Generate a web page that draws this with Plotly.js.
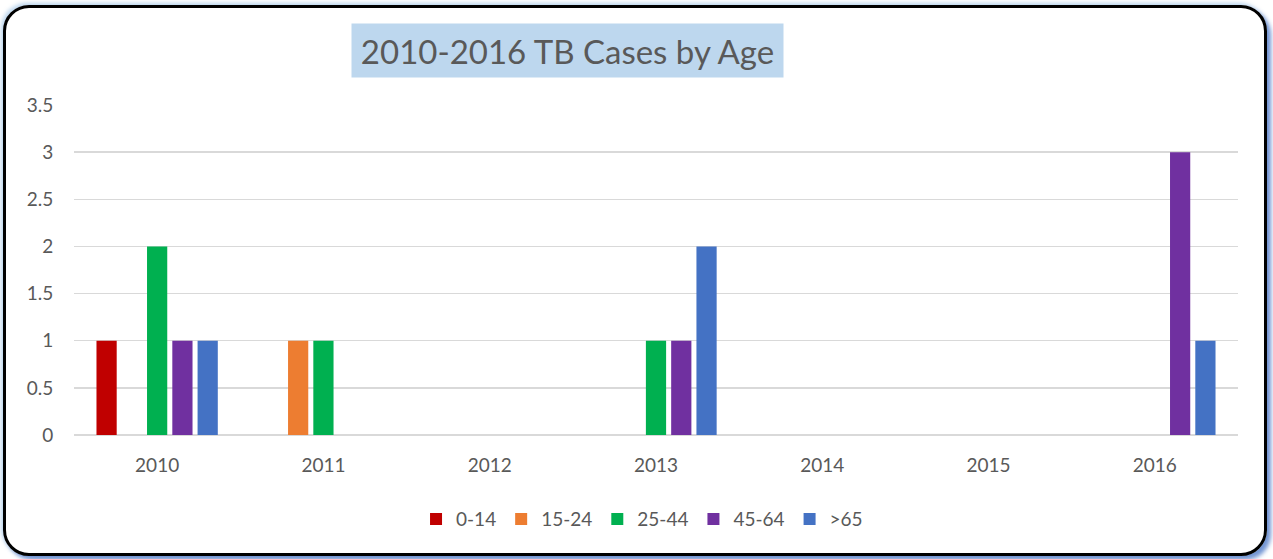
<!DOCTYPE html>
<html>
<head>
<meta charset="utf-8">
<script src="https://cdn.plot.ly/plotly-3.0.1.min.js"></script>
<style>
html,body{margin:0;padding:0;background:#fff;width:1273px;height:559px;overflow:hidden;}
#chart{position:absolute;left:0;top:0;width:1273px;height:559px;}
#frame{position:absolute;left:3px;top:5px;width:1264px;height:551px;box-sizing:border-box;border:3px solid #000;border-radius:26px;pointer-events:none;
box-shadow:4px 4px 4px rgba(68,114,196,0.75),-2px -2px 4px rgba(155,194,230,0.7);}
</style>
</head>
<body>
<div id="chart"></div>
<div id="frame"></div>
<script>
const years = ['2010','2011','2012','2013','2014','2015','2016'];
const seriesNames = ['0-14','15-24','25-44','45-64','>65'];
const age0_14  = [1,0,0,0,0,0,0];
const age15_24 = [0,1,0,0,0,0,0];
const age25_44 = [2,1,0,1,0,0,0];
const age45_64 = [1,0,0,1,0,0,3];
const age65p   = [1,0,0,2,0,0,1];
const colors = ['#c00000','#ed7d31','#00b050','#7030a0','#4472c4'];
const yTicks = [0,0.5,1,1.5,2,2.5,3,3.5];

const allSeries = [age0_14, age15_24, age25_44, age45_64, age65p];
const font = 'Lato, "Open Sans", sans-serif';
const traces = allSeries.map((vals,i)=>({
  type:'bar', x:years, y:vals, name:seriesNames[i],
  marker:{color:colors[i], line:{width:0}},
  hoverinfo:'x+y+name'
}));

const layout = {
  width:1273, height:559,
  margin:{l:74, r:35, t:105, b:124},
  paper_bgcolor:'#ffffff', plot_bgcolor:'#ffffff',
  barmode:'group', bargap:0.24, bargroupgap:0.2,
  font:{family:font, color:'#595959', size:19},
  xaxis:{type:'category', showgrid:false, zeroline:false, showline:false,
         ticks:'outside', ticklen:13, tickcolor:'rgba(0,0,0,0)',
         tickfont:{size:19, color:'#595959', family:font}},
  yaxis:{range:[0,3.5], tickvals:yTicks, ticktext:yTicks.map(String),
         showgrid:true, gridcolor:'#d9d9d9', gridwidth:1.5,
         zeroline:true, zerolinecolor:'#d9d9d9', zerolinewidth:1.5, showline:false,
         ticks:'outside', ticklen:16, tickcolor:'rgba(0,0,0,0)',
         tickfont:{size:19, color:'#595959', family:font}},
  showlegend:true,
  legend:{orientation:'h', x:0.488, xanchor:'center', y:-0.255, yanchor:'middle',
          font:{size:19, color:'#595959', family:font}, itemwidth:30, traceorder:'normal'},
  annotations:[{
    text:'2010-2016 TB Cases by Age', xref:'paper', yref:'paper',
    x:0.424, y:1.165, xanchor:'center', yanchor:'middle', showarrow:false,
    bgcolor:'#bdd7ee', width:431, height:53, borderpad:0,
    font:{size:33, color:'#595959', family:font}
  }]
};

Plotly.newPlot('chart', traces, layout, {displayModeBar:false, staticPlot:true});
</script>
</body>
</html>
